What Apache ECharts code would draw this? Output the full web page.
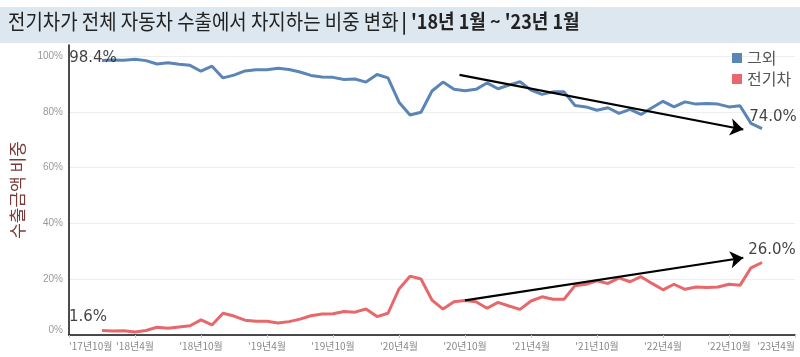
<!DOCTYPE html>
<html><head><meta charset="utf-8">
<script src="https://cdn.jsdelivr.net/npm/echarts@6/dist/echarts.min.js"></script>
<style>html,body{margin:0;padding:0;background:#fff}#c{width:800px;height:357px}</style>
</head><body><div id="c"></div>
<script>
// Tick labels of the x axis (every 6 months, from '17년10월 to '23년4월)
const tickLabels = ["'17년10월","'18년4월","'18년10월","'19년4월","'19년10월","'20년4월","'20년10월","'21년4월","'21년10월","'22년4월","'22년10월","'23년4월"];
// Monthly data '18년1월 ~ '23년1월 (61 months); '18년1월 is 3 months after '17년10월
const firstMonthOffset = 3;
const seriesNames = ['그외', '전기차'];
const evShare = [1.6,1.4,1.5,1.1,1.6,2.8,2.4,2.9,3.3,5.4,3.6,7.8,6.8,5.3,4.9,4.9,4.3,4.8,5.7,6.9,
  7.5,7.6,8.4,8.2,9.3,6.6,7.8,16.5,21.1,20.1,12.5,9.3,11.9,12.4,11.9,9.6,11.7,10.4,9.2,12.2,
  13.7,12.8,12.8,17.7,18.2,19.4,18.5,20.5,19.1,20.9,18.5,16.2,18.2,16.4,17.2,17.0,17.2,18.2,17.8,24.1,26.0];
const otherShare = [98.4,98.6,98.5,98.9,98.4,97.2,97.6,97.1,96.7,94.6,96.4,92.2,93.2,94.7,95.1,95.1,95.7,95.2,94.3,93.1,
  92.5,92.4,91.6,91.8,90.7,93.4,92.2,83.5,78.9,79.9,87.5,90.7,88.1,87.6,88.1,90.4,88.3,89.6,90.8,87.8,
  86.3,87.2,87.2,82.3,81.8,80.6,81.5,79.5,80.9,79.1,81.5,83.8,81.8,83.6,82.8,83.0,82.8,81.8,82.2,75.9,74.0];
// Trend arrows (x in months from '17년10월, y in %)
const otherTrend = [[35.5, 93.3], [61.3, 73.7]];
const evTrend = [[36, 12.4], [61.3, 27.7]];

const colors = ['#5b85b5', '#e8676b'];
const toPts = arr => arr.map((v, i) => [i + firstMonthOffset, v]);
const last = evShare.length - 1;

const labelStyle = {show: true, position: 'inside', fontSize: 15, color: '#111', fontFamily: 'DejaVu Sans',
  formatter: p => p.value[1].toFixed(1) + '%'};

const chart = echarts.init(document.getElementById('c'), null, {renderer: 'canvas'});
chart.setOption({
  animation: false,
  color: colors,
  graphic: [
    {type: 'rect', left: 0, top: 7, shape: {width: 800, height: 36}, style: {fill: '#dde7ef'}, silent: true},
    {type: 'text', left: 8, top: 11, scaleX: 0.9, style: {
      text: '{a|전기차가 전체 자동차 수출에서 차지하는 비중 변화} {b|| \'18년 1월 ~ \'23년 1월}',
      rich: {
        a: {fontSize: 21, fontFamily: 'Noto Sans CJK KR', fill: '#222'},
        b: {fontSize: 20, fontWeight: 'bold', fontFamily: 'Noto Sans CJK KR', fill: '#222'}
      }
    }}
  ],
  legend: {
    data: seriesNames, orient: 'vertical', left: 727, top: 45,
    icon: 'rect', itemWidth: 10, itemHeight: 10, itemGap: 5,
    textStyle: {fontSize: 16, color: '#555', fontFamily: 'Noto Sans CJK KR'}
  },
  grid: {left: 69, right: 5, top: 45, bottom: 22},
  xAxis: {
    type: 'value', min: 0, max: 66, interval: 6,
    axisLine: {lineStyle: {color: '#111', width: 1.5}},
    axisTick: {show: true, length: 3, lineStyle: {color: '#ccc'}},
    splitLine: {show: false},
    axisLabel: {formatter: v => tickLabels[v / 6] || '', fontSize: 10, color: '#888',
      fontFamily: 'Noto Sans CJK KR', margin: 6, alignMinLabel: 'left', alignMaxLabel: 'right'}
  },
  yAxis: {
    type: 'value', min: 0, max: 104, interval: 20,
    name: '수출금액 비중', nameLocation: 'middle', nameGap: 37, nameRotate: 90,
    nameTextStyle: {fontSize: 17, color: '#7a3a3a', fontFamily: 'Noto Sans CJK KR'},
    axisLine: {show: true, lineStyle: {color: '#111', width: 1.5}},
    axisTick: {show: false},
    splitLine: {lineStyle: {color: ['#eee','#eee','#eee','#eee','#eee','#eee','rgba(0,0,0,0)']}},
    axisLabel: {formatter: v => (v % 20 === 0 ? v + '%' : ''), showMaxLabel: false, fontSize: 10, color: '#999', margin: 6,
      verticalAlignMinLabel: 'bottom'}
  },
  series: [
    {name: seriesNames[0], type: 'line', data: toPts(otherShare), showSymbol: false,
      lineStyle: {width: 3, color: colors[0]}, itemStyle: {color: colors[0]}, z: 2,
      markLine: {silent: true, symbol: ['none', 'arrow'], symbolSize: 13, label: {show: false},
        lineStyle: {color: '#000', width: 2.2, type: 'solid'},
        data: [[{coord: otherTrend[0]}, {coord: otherTrend[1]}]]}},
    {name: seriesNames[1], type: 'line', data: toPts(evShare), showSymbol: false,
      lineStyle: {width: 3, color: colors[1]}, itemStyle: {color: colors[1]}, z: 2,
      markLine: {silent: true, symbol: ['none', 'arrow'], symbolSize: 13, label: {show: false},
        lineStyle: {color: '#000', width: 2.2, type: 'solid'},
        data: [[{coord: evTrend[0]}, {coord: evTrend[1]}]]}},
    {name: 'labels', type: 'scatter', symbolSize: 1, itemStyle: {color: 'rgba(0,0,0,0)'}, z: 5, silent: true,
      data: [
        {value: [firstMonthOffset, otherShare[0]], label: Object.assign({}, labelStyle, {offset: [-9, -3]})},
        {value: [firstMonthOffset, evShare[0]], label: Object.assign({}, labelStyle, {offset: [-14, -13]})},
        {value: [last + firstMonthOffset, otherShare[last]], label: Object.assign({}, labelStyle, {offset: [11, -12]})},
        {value: [last + firstMonthOffset, evShare[last]], label: Object.assign({}, labelStyle, {offset: [10, -12]})}
      ]}
  ]
});
</script></body></html>
